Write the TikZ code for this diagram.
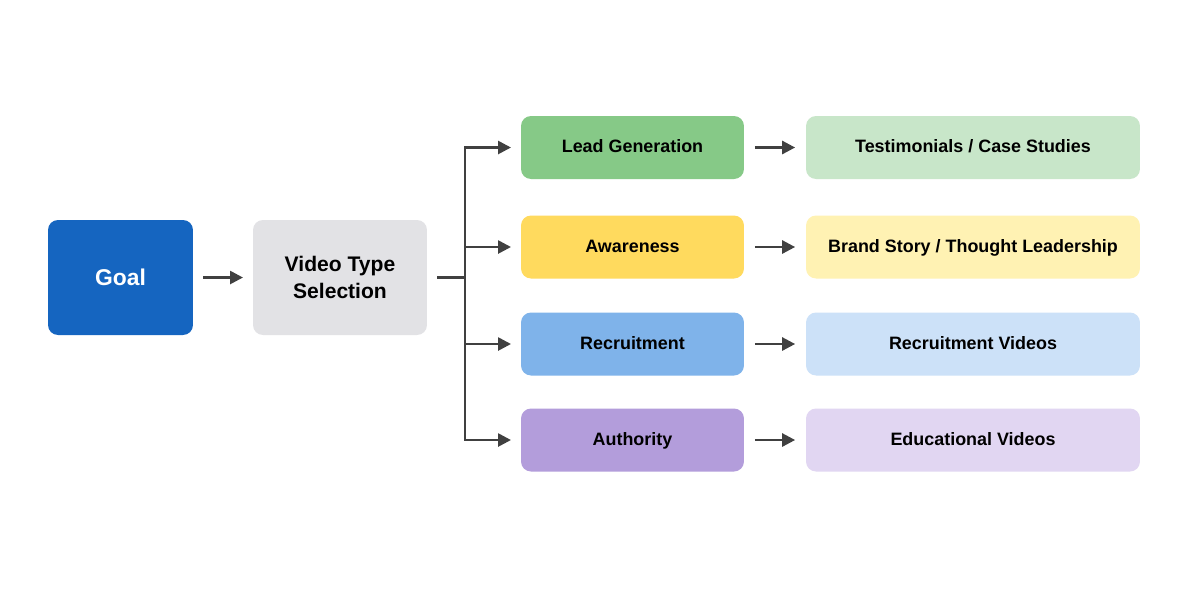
\documentclass[tikz,border=0pt]{standalone}
\usepackage{fontspec}
\setmainfont{Liberation Sans}
\usetikzlibrary{arrows.meta, positioning}
\definecolor{goalblue}{HTML}{1565C0}
\definecolor{selgray}{HTML}{E2E2E5}
\definecolor{leadg}{HTML}{86C987}
\definecolor{awary}{HTML}{FFDA5E}
\definecolor{recb}{HTML}{7FB3EA}
\definecolor{autp}{HTML}{B39DDB}
\definecolor{leadl}{HTML}{C8E6C9}
\definecolor{awarl}{HTML}{FFF2B3}
\definecolor{recl}{HTML}{CCE1F8}
\definecolor{autl}{HTML}{E1D6F2}
\definecolor{arrowgray}{HTML}{404040}
\begin{document}
\begin{tikzpicture}[x=0.02cm, y=-0.02cm,
box/.style = {rounded corners=2mm, align=center, font=\bfseries\fontsize{10.2}{13}\selectfont, inner sep=0pt},
mid/.style = {box, minimum width=4.46cm, minimum height=1.26cm, text height=1.6ex, text depth=.45ex},
res/.style = {mid, minimum width=6.68cm},
link/.style = {draw=arrowgray, line width=1.5pt, -{Triangle[length=2.6mm, width=2.6mm]}},
                    ]
\fill[white] (0,0) rectangle (1200,600);
\node[box, fill=goalblue, text=white, minimum width=2.9cm, minimum height=2.3cm,
      font=\bfseries\fontsize{13}{15}\selectfont] (goal) at (120.5,277.5) {Goal};
\node[box, fill=selgray, minimum width=3.48cm, minimum height=2.3cm,
      font=\bfseries\fontsize{12}{15.5}\selectfont] (sel) at (340,277.5) {Video Type\\Selection};
%
\node[mid, fill=leadg] (lead) at (632.5,147.5) {Lead Generation};
\node[mid, fill=awary] (awar) at (632.5,247) {Awareness};
\node[mid, fill=recb]  (recr) at (632.5,344) {Recruitment};
\node[mid, fill=autp]  (auth) at (632.5,440) {Authority};
%
\node[res, fill=leadl] (leadv) at (973,147.5) {Testimonials / Case Studies};
\node[res, fill=awarl] (awarv) at (973,247) {Brand Story / Thought Leadership};
\node[res, fill=recl]  (recrv) at (973,344) {Recruitment Videos};
\node[res, fill=autl]  (authv) at (973,440) {Educational Videos};
%
\coordinate (trunk) at (465,277.5);
\draw[link, shorten <=5.5pt, shorten >=5.5pt] (goal) -- (sel);
\draw[draw=arrowgray, line width=1.5pt, shorten <=5.5pt] (sel.east) -- (trunk);
\draw[draw=arrowgray, line width=1.5pt, line cap=rect] (trunk |- lead) -- (trunk |- auth);
\foreach \m in {lead, awar, recr, auth}
  \draw[link, shorten >=5.5pt] (trunk |- \m) -- (\m.west);
\foreach \m in {lead, awar, recr, auth}
  \draw[link, shorten <=6pt, shorten >=6pt] (\m.east) -- (\m v.west);
\end{tikzpicture}
\end{document}
